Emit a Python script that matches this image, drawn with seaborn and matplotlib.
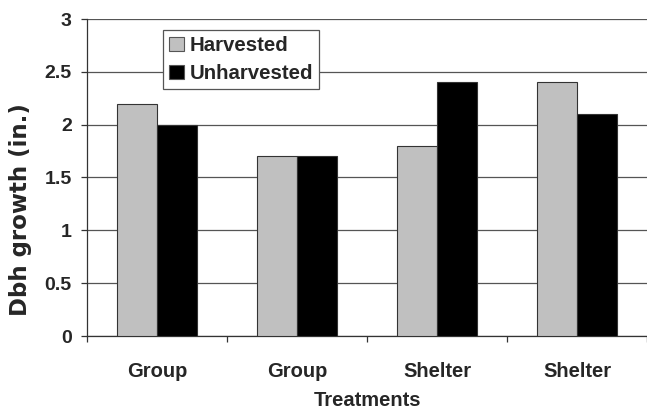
import matplotlib
matplotlib.use("Agg")
import matplotlib.pyplot as plt
import seaborn as sns
import pandas as pd
from matplotlib.patches import Patch

categories = ["Group", "Group", "Shelter", "Shelter"]
harvested = [2.2, 1.7, 1.8, 2.4]
unharvested = [2.0, 1.7, 2.4, 2.1]
series = ["Harvested", "Unharvested"]
yticks = [0, 0.5, 1, 1.5, 2, 2.5, 3]
ytick_labels = ["0", "0.5", "1", "1.5", "2", "2.5", "3"]

slots = list(range(len(categories)))
df = pd.DataFrame({
    "slot": slots * 2,
    "value": harvested + unharvested,
    "series": [series[0]] * len(slots) + [series[1]] * len(slots),
})

sns.set_style("white")
plt.rcParams["font.family"] = ["Liberation Sans", "DejaVu Sans"]

fig = plt.figure(figsize=(6.47, 4.11), dpi=100)
ax = fig.add_axes([87 / 647, 1 - 336 / 411, 560 / 647, 317 / 411])

colors = {"Harvested": "#c0c0c0", "Unharvested": "#000000"}
sns.barplot(data=df, x="slot", y="value", hue="series", hue_order=series,
            palette=colors, width=0.572, ax=ax, edgecolor="#333333",
            linewidth=0.8, legend=False, zorder=3, saturation=1)

ax.set_ylim(0, 3)
ax.set_xlim(-0.5, len(categories) - 0.5)
ax.set_yticks(yticks)
ax.set_yticklabels(ytick_labels, fontsize=14, fontweight="bold")
ax.yaxis.grid(True, color="#555555", linewidth=0.9, zorder=0)
ax.set_axisbelow(True)

# category boundaries as major ticks, labels at centers as minor ticks
ax.set_xticks([i - 0.5 for i in slots] + [len(categories) - 0.5])
ax.set_xticklabels([])
ax.set_xticks(slots, minor=True)
ax.set_xticklabels(categories, minor=True, fontsize=14.5, fontweight="bold")
ax.tick_params(axis="x", which="major", length=4.5, width=0.9, color="#333333", direction="out", bottom=True)
ax.tick_params(axis="x", which="minor", length=0, pad=19)
ax.tick_params(axis="y", which="major", length=4, width=0.9, color="#333333", direction="out", left=True, pad=7)

for s in ["top", "right"]:
    ax.spines[s].set_visible(False)
for s in ["left", "bottom"]:
    ax.spines[s].set_color("#333333")
    ax.spines[s].set_linewidth(0.9)

ax.set_xlabel("Treatments", fontsize=14.5, fontweight="bold", labelpad=7)
ax.set_ylabel("Dbh growth (in.)", fontsize=16.5, fontweight="bold",
              family=["DejaVu Sans"])
ax.yaxis.set_label_coords(-0.098, 0.40)

handles = [Patch(facecolor=colors[s], edgecolor="#555555", linewidth=0.8, label=s) for s in series]
leg = ax.legend(handles=handles, loc="upper left", bbox_to_anchor=(0.136, 0.965),
                borderaxespad=0, fontsize=14.7, frameon=True, fancybox=False,
                handlelength=0.7, handleheight=0.7, handletextpad=0.3,
                labelspacing=0.42, borderpad=0.3)
leg.get_frame().set_edgecolor("#555555")
leg.get_frame().set_linewidth(0.9)
leg.get_frame().set_alpha(1)
for t in leg.get_texts():
    t.set_fontweight("bold")

fig.savefig("out.png", dpi=100)
